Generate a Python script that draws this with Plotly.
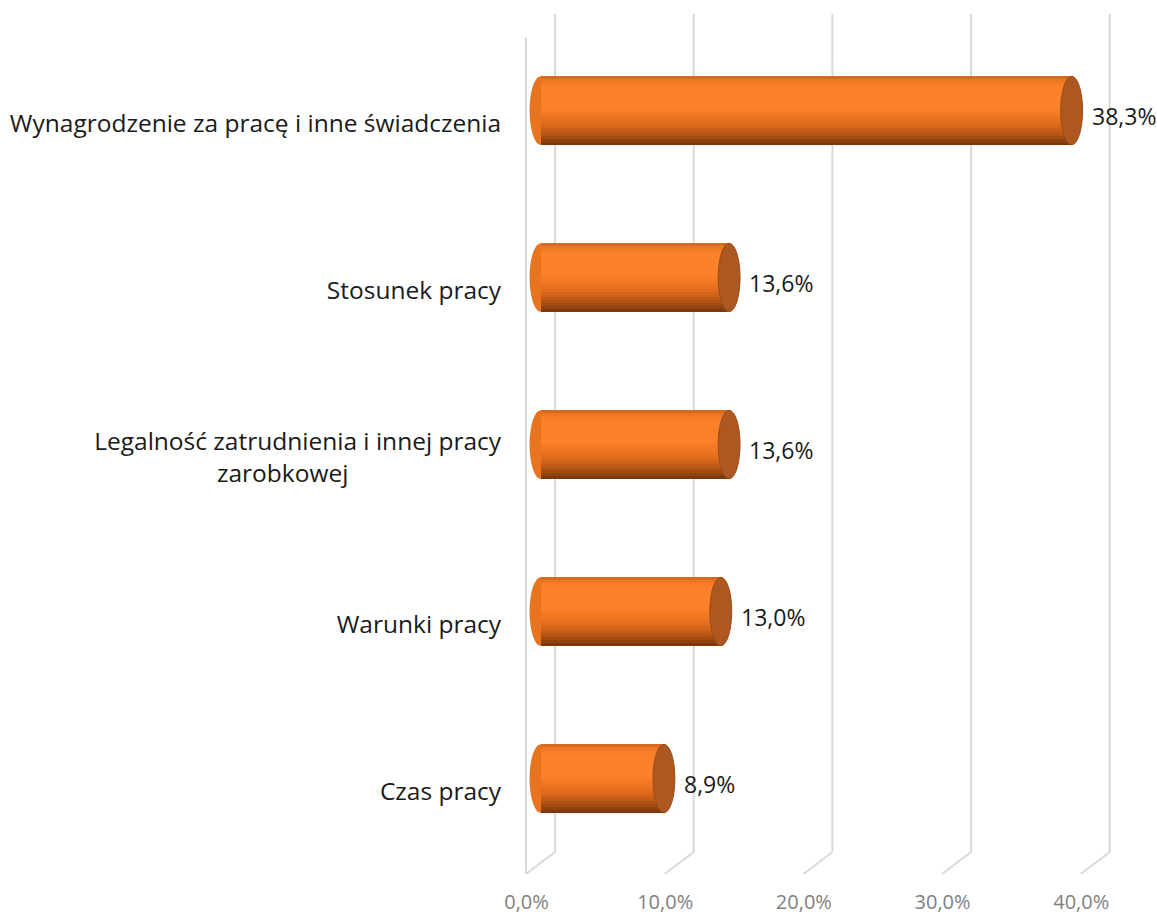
import plotly.graph_objects as go

categories = [
    "Wynagrodzenie za pracę i inne świadczenia",
    "Stosunek pracy",
    "Legalność zatrudnienia i innej pracy<br>zarobkowej" + "\u00a0" * 24,
    "Warunki pracy",
    "Czas pracy",
]
values = [38.3, 13.6, 13.6, 13.0, 8.9]
tick_values = [0, 10, 20, 30, 40]
tick_labels = ["0,0%", "10,0%", "20,0%", "30,0%", "40,0%"]

positions = list(range(len(categories)))
BAR_W = 0.41
DEPTH = 1.05       # half depth offset of the 3D walls (x units)
CAP = 0.79         # half width of cylinder end cap (x units)

# colour stops of the cylinder shading, from top edge (0) to bottom edge (1)
stops = [
    (0.00, (200, 100, 30)),
    (0.07, (240, 122, 37)),
    (0.15, (252, 129, 40)),
    (0.45, (252, 129, 40)),
    (0.60, (238, 118, 33)),
    (0.75, (212, 100, 25)),
    (0.88, (170, 80, 18)),
    (1.00, (115, 52, 10)),
]


def shade(f):
    for (a, ca), (b, cb) in zip(stops[:-1], stops[1:]):
        if a <= f <= b:
            t = (f - a) / (b - a) if b > a else 0
            return "rgb(%d,%d,%d)" % tuple(round(ca[i] + (cb[i] - ca[i]) * t) for i in range(3))
    return "rgb(%d,%d,%d)" % stops[-1][1]


N_BANDS = 24
fig = go.Figure()
for k in range(N_BANDS):
    a, b = k / N_BANDS, (k + 1) / N_BANDS
    fig.add_trace(go.Bar(
        x=values, y=positions, orientation="h",
        width=(b - a) * BAR_W * 1.04, offset=-BAR_W / 2 + a * BAR_W,
        marker=dict(color=shade((a + b) / 2), line=dict(width=0)),
        hoverinfo="skip", showlegend=False,
    ))

shapes = []
grid_col = "#d9d9d9"
for t in tick_values:
    shapes.append(dict(type="line", xref="x", yref="paper", x0=t + DEPTH, x1=t + DEPTH,
                       y0=0.012, y1=1.0156, line=dict(color=grid_col, width=2), layer="below"))
    shapes.append(dict(type="line", xref="x", yref="paper", x0=t + DEPTH, x1=t - DEPTH,
                       y0=0.012, y1=-0.0144, line=dict(color=grid_col, width=2), layer="below"))
# left wall front edge
shapes.append(dict(type="line", xref="x", yref="paper", x0=tick_values[0] - DEPTH, x1=tick_values[0] - DEPTH,
                   y0=-0.0144, y1=0.987, line=dict(color=grid_col, width=2), layer="below"))

for p, v in zip(positions, values):
    # rounded left end of cylinder
    shapes.append(dict(type="circle", xref="x", yref="y", x0=-CAP, x1=CAP,
                       y0=p - BAR_W / 2, y1=p + BAR_W / 2,
                       fillcolor="#e8741f", line=dict(width=0), layer="below"))
    # end cap
    shapes.append(dict(type="circle", xref="x", yref="y", x0=v - CAP, x1=v + CAP,
                       y0=p - BAR_W / 2, y1=p + BAR_W / 2,
                       fillcolor="#ac5820", line=dict(color="#9a4c18", width=1), layer="above"))

annotations = []
for p, v in zip(positions, values):
    annotations.append(dict(x=v, y=p, xref="x", yref="y", text=f"{v:.1f}%".replace(".", ","),
                            showarrow=False, xanchor="left", xshift=18, yshift=-5,
                            font=dict(family="Open Sans", size=23, color="#1a1a1a")))

fig.update_layout(
    width=1157, height=915,
    margin=dict(l=510, r=41, t=27, b=53, autoexpand=False),
    paper_bgcolor="white", plot_bgcolor="white",
    barmode="overlay", bargap=0,
    separators=",.",
    shapes=shapes, annotations=annotations,
    showlegend=False,
    xaxis=dict(range=[-2.2, 41.5], tickvals=tick_values, ticktext=tick_labels,
               showgrid=False, zeroline=False, showline=False,
               ticks="outside", ticklen=22, tickcolor="rgba(0,0,0,0)",
               ticklabelshift=-14,
               tickfont=dict(family="Open Sans", size=20, color="#7f7f7f")),
    yaxis=dict(range=[4.5, -0.5], tickvals=positions, ticktext=categories,
               showgrid=False, zeroline=False, showline=False,
               ticks="outside", ticklen=3, tickcolor="rgba(0,0,0,0)",
               ticklabelshift=-13,
               tickfont=dict(family="Open Sans", size=24.5, color="#1a1a1a")),
)

fig.write_html("out.html", config={"displayModeBar": False},
               post_script="document.body.style.margin='0';document.body.style.overflow='hidden';")
